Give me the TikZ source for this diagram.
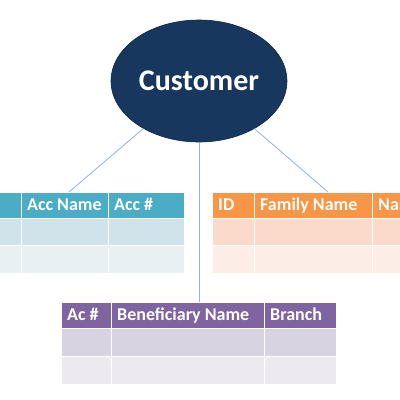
\documentclass[tikz,border=0pt]{standalone}
\usepackage{fontspec}
\setmainfont{Carlito}
\usetikzlibrary{shapes.geometric}
\definecolor{navy}{HTML}{17375E}
\definecolor{linec}{HTML}{95B3D7}
\definecolor{bhead}{HTML}{4BACC6}
\definecolor{brow1}{HTML}{D0E3EA}
\definecolor{brow2}{HTML}{E9F0F3}
\definecolor{ohead}{HTML}{F79646}
\definecolor{orow1}{HTML}{FCDACB}
\definecolor{orow2}{HTML}{FDEDE7}
\definecolor{phead}{HTML}{8064A2}
\definecolor{prow1}{HTML}{D8D3E0}
\definecolor{prow2}{HTML}{ECEAF0}
\tikzset{
  cellbox/.style={draw=white, line width=1pt, anchor=north west, rectangle, inner sep=0pt, outer sep=0pt},
  hdrtext/.style={anchor=west, text=white, font=\bfseries\fontsize{18}{20}\selectfont, inner sep=0pt, text height=11.6pt, text depth=0pt},
  conn/.style={draw=linec, line width=0.8pt}
}
\newcommand{\hcell}[7]{\node[cellbox, fill=#6, minimum width=#4pt, minimum height=#5pt] (#1) at (#2,#3) {};
  \node[hdrtext] (#1t) at ([xshift=6pt]#1.west) {#7};}
\newcommand{\bcell}[6]{\node[cellbox, fill=#6, minimum width=#4pt, minimum height=#5pt] (#1) at (#2,#3) {};}
\begin{document}
\begin{tikzpicture}[x=1pt,y=-1pt]
\useasboundingbox (0,0) rectangle (400,400);
\clip (0,0) rectangle (400,400);
\fill[white] (0,0) rectangle (400,400);
% ellipse
\node[ellipse, fill=navy, draw=navy!70!black, line width=0.6pt, minimum width=176pt, minimum height=122pt, inner sep=0pt, text=white, font=\bfseries\fontsize{30}{32}\selectfont] (cust) at (199,81) {Customer};
% connector ends
\coordinate (ltop) at (69,192);
\coordinate (rtop) at (328,192);
\coordinate (btop) at (199,302);
\draw[conn] (cust) -- (ltop);
\draw[conn] (cust) -- (rtop);
\draw[conn] (cust) -- (btop);
% left table
\hcell{l0}{-60}{192}{81}{26}{bhead}{}
\hcell{l1}{21}{192}{87}{26}{bhead}{Acc Name}
\hcell{l2}{108}{192}{76}{26}{bhead}{Acc \#}
\bcell{l3}{-60}{218}{81}{27}{brow1}
\bcell{l4}{21}{218}{87}{27}{brow1}
\bcell{l5}{108}{218}{76}{27}{brow1}
\bcell{l6}{-60}{245}{81}{28}{brow2}
\bcell{l7}{21}{245}{87}{28}{brow2}
\bcell{l8}{108}{245}{76}{28}{brow2}
% right table
\hcell{r1}{212}{192}{42}{26}{ohead}{ID}
\hcell{r2}{254}{192}{118}{26}{ohead}{Family Name}
\hcell{r3}{372}{192}{80}{26}{ohead}{Name}
\bcell{r4}{212}{218}{42}{27}{orow1}
\bcell{r5}{254}{218}{118}{27}{orow1}
\bcell{r6}{372}{218}{80}{27}{orow1}
\bcell{r7}{212}{245}{42}{28}{orow2}
\bcell{r8}{254}{245}{118}{28}{orow2}
\bcell{r9}{372}{245}{80}{28}{orow2}
% bottom table
\hcell{b1}{61}{302}{50}{26}{phead}{Ac \#}
\hcell{b2}{111}{302}{153}{26}{phead}{Beneficiary Name}
\hcell{b3}{264}{302}{72}{26}{phead}{Branch}
\bcell{b4}{61}{328}{50}{28}{prow1}
\bcell{b5}{111}{328}{153}{28}{prow1}
\bcell{b6}{264}{328}{72}{28}{prow1}
\bcell{b7}{61}{356}{50}{28}{prow2}
\bcell{b8}{111}{356}{153}{28}{prow2}
\bcell{b9}{264}{356}{72}{28}{prow2}
\end{tikzpicture}
\end{document}
